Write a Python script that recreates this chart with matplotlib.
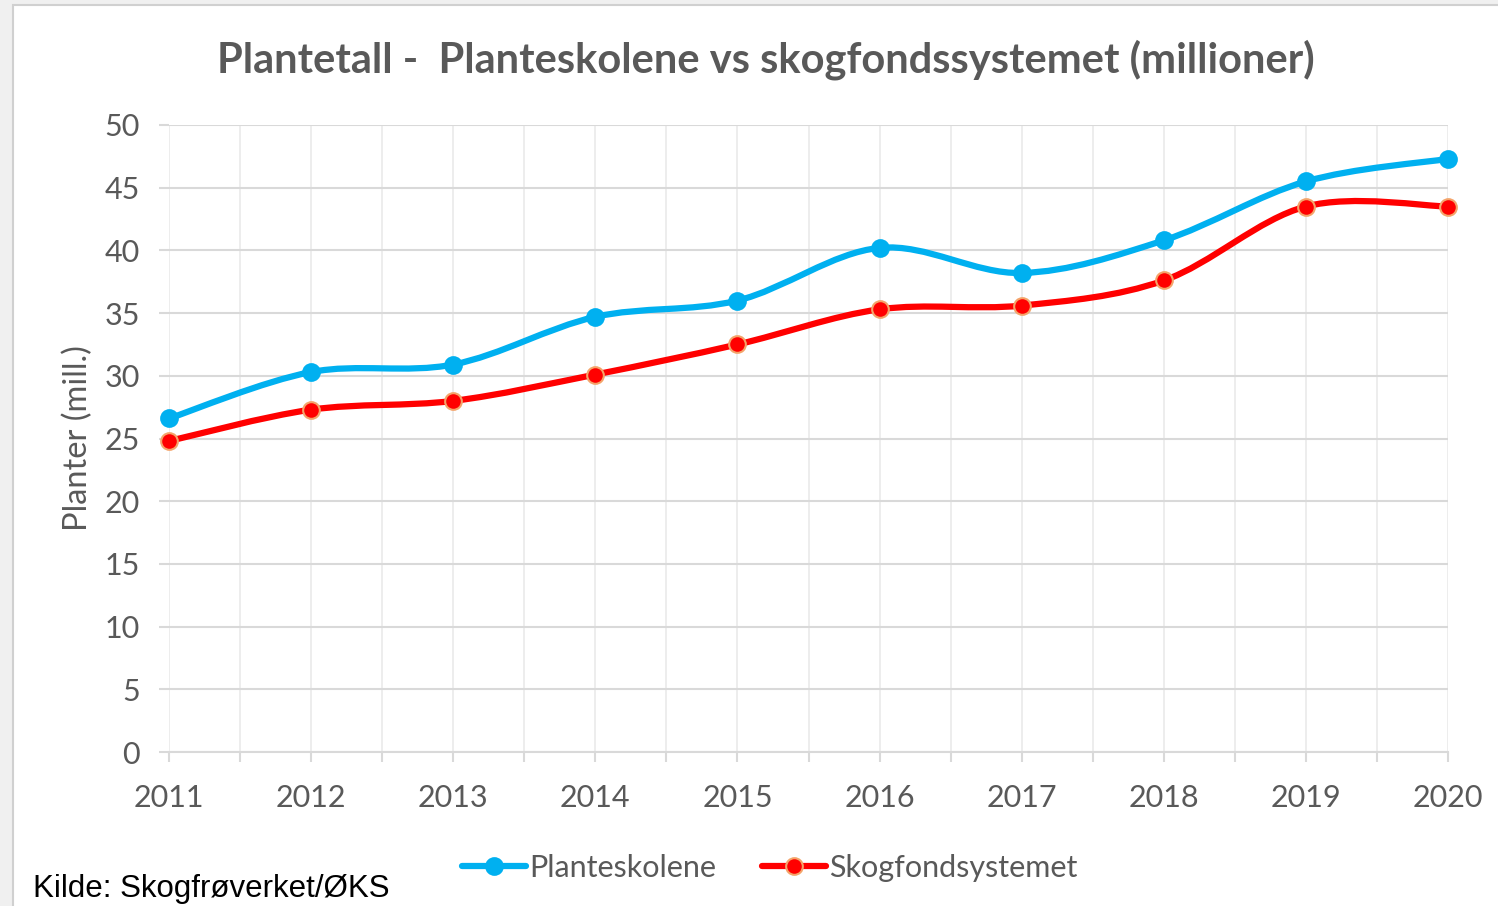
import matplotlib.pyplot as plt
import numpy as np
from matplotlib.lines import Line2D
from matplotlib.patches import PathPatch, Rectangle
from matplotlib.path import Path

years = [2011, 2012, 2013, 2014, 2015, 2016, 2017, 2018, 2019, 2020]
planteskolene = [26.6, 30.3, 30.9, 34.7, 36.0, 40.2, 38.2, 40.8, 45.5, 47.3]
skogfond = [24.8, 27.3, 28.0, 30.1, 32.5, 35.3, 35.6, 37.6, 43.5, 43.5]

title = "Plantetall -  Planteskolene vs skogfondssystemet (millioner)"
ylabel = "Planter (mill.)"
source = "Kilde: Skogfrøverket/ØKS"

BLUE = "#00B0F0"
RED = "#FF0000"
RED_EDGE = "#F4A46A"
GRID = "#d9d9d9"
TEXT = "#595959"


def smooth_path(x, y):
    # Excel style smoothed line: Catmull-Rom segments as cubic Beziers
    pts = np.column_stack([x, y]).astype(float)
    ext = np.vstack([pts[0], pts, pts[-1]])
    verts = [pts[0]]
    codes = [Path.MOVETO]
    for i in range(len(pts) - 1):
        p0, p1, p2, p3 = ext[i], ext[i + 1], ext[i + 2], ext[i + 3]
        verts += [p1 + (p2 - p0) / 6, p2 - (p3 - p1) / 6, p2]
        codes += [Path.CURVE4] * 3
    return Path(verts, codes)


plt.rcParams["font.family"] = ["Lato", "DejaVu Sans"]

fig = plt.figure(figsize=(14.98, 9.06), dpi=100, facecolor="#f0f0f0")
fig.patches.append(
    Rectangle((13 / 1498, -0.01), 1.0, 1 - 5 / 906 + 0.01, transform=fig.transFigure,
              facecolor="white", edgecolor="#d0d0d0", lw=1.5, zorder=-10)
)

ax = fig.add_axes([169 / 1498, 1 - 752 / 906, (1448 - 169) / 1498, (752 - 125) / 906])
ax.set_facecolor("none")

series = [
    (planteskolene, BLUE, BLUE, "Planteskolene"),
    (skogfond, RED, RED_EDGE, "Skogfondsystemet"),
]
handles = []
for values, color, edge, label in series:
    ax.add_patch(PathPatch(smooth_path(years, values), facecolor="none", edgecolor=color,
                           lw=4.5, capstyle="round", joinstyle="round", zorder=3,
                           clip_on=False))
    ax.plot(years, values, ls="none", marker="o", ms=12, mfc=color, mec=edge, mew=1.5,
            zorder=4, clip_on=False)
    handles.append(Line2D([], [], color=color, lw=4.5, marker="o", ms=12, mfc=color,
                          mec=edge, mew=1.5, solid_capstyle="round", label=label))

ax.set_xlim(2011, 2020)
ax.set_ylim(0, 50)
ax.set_xticks(years)
ax.set_xticks(np.arange(2011.5, 2020, 1), minor=True)
ax.set_yticks(range(0, 51, 5))

ax.grid(axis="y", color=GRID, lw=1.5)
ax.grid(axis="x", which="both", color="#ececec", lw=1.3)
ax.set_axisbelow(True)
for side in ["left", "right", "top"]:
    ax.spines[side].set_visible(False)
ax.spines["bottom"].set_color(GRID)
ax.spines["bottom"].set_linewidth(1.5)

ax.tick_params(axis="x", which="both", length=7, width=1.5, color=GRID)
ax.tick_params(axis="x", which="major", labelsize=22, labelcolor=TEXT, pad=16)
ax.tick_params(axis="y", length=7, width=1.5, color=GRID, labelsize=22,
               labelcolor=TEXT, pad=14)

ax.set_ylabel(ylabel, fontsize=23.5, color=TEXT, labelpad=8)

fig.text(0.511, 0.934, title, ha="center", va="center", fontsize=30,
         fontweight="bold", color=TEXT)

fig.legend(handles=handles, loc="center", bbox_to_anchor=(0.514, 0.042), ncol=2,
           frameon=False, fontsize=22, labelcolor=TEXT, handlelength=2.1,
           handletextpad=0.1, columnspacing=1.5, numpoints=1)

fig.text(33 / 1498, 0.002, source, ha="left", va="bottom", fontsize=22.5,
         family="Liberation Sans", color="black")

fig.savefig("out.png", dpi=100, facecolor=fig.get_facecolor())
